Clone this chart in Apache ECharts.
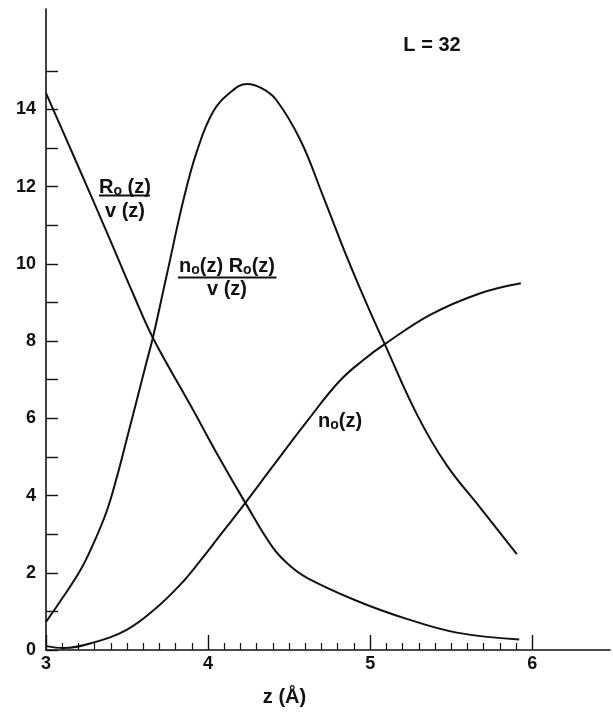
<!DOCTYPE html>
<html>
<head>
<meta charset="utf-8">
<script src="https://cdn.jsdelivr.net/npm/echarts@6/dist/echarts.min.js"></script>
<style>
html,body{margin:0;padding:0;background:#fff;}
#chart{width:613px;height:712px;}
</style>
</head>
<body>
<div id="chart"></div>
<script>
// R0(z)/v(z)
var ratioRX = [3.00, 3.17, 3.375, 3.54, 3.66, 3.89, 4.07, 4.23, 4.40, 4.50, 4.61, 4.92, 5.23, 5.535, 5.92];
var ratioRY = [14.42, 12.80, 10.82, 9.20, 8.08, 6.35, 4.97, 3.81, 2.65, 2.20, 1.87, 1.27, 0.80, 0.45, 0.27];
// n0(z) R0(z) / v(z)
var productX = [3.00, 3.086, 3.21, 3.29, 3.375, 3.436, 3.50, 3.62, 3.66, 3.745, 3.85, 3.93, 4.03, 4.14, 4.24, 4.33, 4.42, 4.57, 4.71, 4.86, 4.98, 5.09, 5.29, 5.47, 5.68, 5.905];
var productY = [0.73, 1.25, 2.05, 2.73, 3.60, 4.46, 5.49, 7.45, 8.10, 9.71, 11.69, 12.90, 13.93, 14.45, 14.66, 14.55, 14.25, 13.20, 11.75, 10.14, 8.95, 7.92, 6.09, 4.80, 3.68, 2.48];
// n0(z)
var densityX = [3.00, 3.107, 3.29, 3.50, 3.68, 3.83, 3.95, 4.03, 4.23, 4.40, 4.61, 4.81, 4.97, 5.09, 5.37, 5.68, 5.93];
var densityY = [0.10, 0.05, 0.19, 0.53, 1.09, 1.70, 2.30, 2.73, 3.81, 4.76, 5.92, 6.96, 7.55, 7.92, 8.68, 9.24, 9.50];

var xMajorTicks = [3, 4, 5, 6];
var xMinorTicks = [3.1, 3.2, 3.3, 3.4, 3.5, 3.6, 3.7, 3.8, 3.9, 4.1, 4.2, 4.3, 4.4, 4.5, 4.6, 4.7, 4.8, 4.9,
                   5.1, 5.2, 5.3, 5.4, 5.5, 5.6, 5.7, 5.8, 5.9];
var yTicks = [0, 1, 2, 3, 4, 5, 6, 7, 8, 9, 10, 11, 12, 13, 14, 15];
var yLabels = [0, 2, 4, 6, 8, 10, 12, 14];

function pairs(xs, ys) { return xs.map(function (x, i) { return [x, ys[i]]; }); }

var FONT = "'Liberation Sans', Arial, Helvetica, sans-serif";
var ink = '#111';
var richStyle = {
  a: { fontSize: 20, fontWeight: 'bold', fontFamily: FONT, color: ink, lineHeight: 23, verticalAlign: 'middle' },
  s: { fontSize: 14, fontWeight: 'bold', fontFamily: FONT, color: ink, lineHeight: 14, verticalAlign: 'bottom' }
};
function label(txt, x, y) {
  return { type: 'text', x: x, y: y, style: { text: txt, rich: richStyle, align: 'center', verticalAlign: 'middle', fill: ink } };
}
function bar(x1, x2, y) {
  return { type: 'line', shape: { x1: x1, y1: y, x2: x2, y2: y }, style: { stroke: ink, lineWidth: 1.8 } };
}

var chart = echarts.init(document.getElementById('chart'), null, { renderer: 'canvas' });
var lineStyle = { color: ink, width: 2 };
chart.setOption({
  animation: false,
  backgroundColor: '#fff',
  grid: { left: 46, right: 3, top: 9, bottom: 59, containLabel: false },
  xAxis: [{
    type: 'value', min: 3, max: 6.48,
    axisLine: { show: true, lineStyle: { color: ink, width: 1.6 } },
    axisTick: { show: true, inside: true, length: 15, customValues: xMajorTicks, lineStyle: { color: ink, width: 1.4 } },
    axisLabel: { customValues: xMajorTicks, margin: 5, color: ink, fontSize: 18, fontWeight: 'bold', fontFamily: FONT },
    splitLine: { show: false },
    name: 'z (Å)', nameLocation: 'middle', nameGap: 37,
    nameTextStyle: { color: ink, fontSize: 20, fontWeight: 'bold', fontFamily: FONT, padding: [0, 87, 0, 0] }
  }, {
    type: 'value', min: 3, max: 6.48, position: 'bottom',
    axisLine: { show: false },
    axisTick: { show: true, inside: true, length: 7, customValues: xMinorTicks, lineStyle: { color: ink, width: 1.2 } },
    axisLabel: { show: false },
    splitLine: { show: false }
  }],
  yAxis: {
    type: 'value', min: 0, max: 16.6,
    axisLine: { show: true, lineStyle: { color: ink, width: 1.6 } },
    axisTick: { show: true, inside: true, length: 12, customValues: yTicks, lineStyle: { color: ink, width: 1.4 } },
    axisLabel: { customValues: yLabels, margin: 10, color: ink, fontSize: 18, fontWeight: 'bold', fontFamily: FONT },
    splitLine: { show: false }
  },
  series: [
    { type: 'line', name: 'R0/v', data: pairs(ratioRX, ratioRY), smooth: 0.4, showSymbol: false, lineStyle: lineStyle },
    { type: 'line', name: 'n0 R0/v', data: pairs(productX, productY), smooth: 0.4, showSymbol: false, lineStyle: lineStyle },
    { type: 'line', name: 'n0', data: pairs(densityX, densityY), smooth: 0.4, showSymbol: false, lineStyle: lineStyle }
  ],
  graphic: [
    label('{a|L = 32}', 432, 45),
    label('{a|R}{s|o}{a| (z)}', 125, 187),
    bar(99, 150, 195.5),
    label('{a|v (z)}', 125, 211),
    label('{a|n}{s|o}{a|(z) R}{s|o}{a|(z)}', 227, 266),
    bar(178, 276.5, 277.5),
    label('{a|v (z)}', 227, 289),
    label('{a|n}{s|o}{a|(z)}', 340, 421)
  ]
});
</script>
</body>
</html>
